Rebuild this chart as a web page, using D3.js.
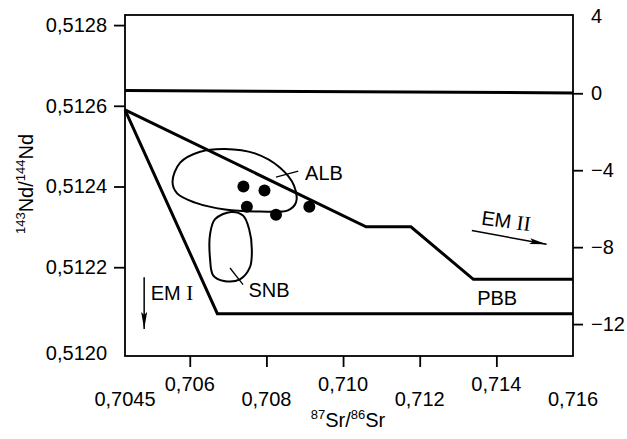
<!DOCTYPE html>
<html><head><meta charset="utf-8">
<script src="https://cdn.jsdelivr.net/npm/d3@7"></script>
<style>
body{margin:0;background:#fff}
svg{display:block}
text{font-family:"Liberation Sans",Arial,sans-serif;fill:#000}
</style>
</head><body>
<svg id="c" width="627" height="439"></svg>
<script>
// ---------- data ----------
const srDomain = [0.70431, 0.716];
const ndDomain = [0.51198, 0.512825];
const epsDomain = [-13.66, 4.07];

const xTickValues = [0.706, 0.708, 0.710, 0.712, 0.714];
const xLabelValues = [0.70431, 0.706, 0.708, 0.710, 0.712, 0.714, 0.716];
const xLabelTexts = ["0,7045", "0,706", "0,708", "0,710", "0,712", "0,714", "0,716"];
const xLabelRow = [1, 0, 1, 0, 1, 0, 1];

const yTickValues = [0.5122, 0.5124, 0.5126, 0.5128];
const yTickTexts = ["0,5122", "0,5124", "0,5126", "0,5128"];
const yBottomLabel = "0,5120";
const yBottomValue = 0.5120;

const epsTickValues = [0, -4, -8, -12];
const epsTickTexts = ["0", "\u22124", "\u22128", "\u221212"];
const epsTopLabel = "4";
const epsTopValue = 4;

// CHUR line (eps = 0)
const churLine = [[0.70431, 0.512638], [0.716, 0.512632]];
// upper boundary (ALB trend to EM II)
const upperLine = [[0.70431, 0.51259], [0.7106, 0.51230], [0.71177, 0.51230], [0.7134, 0.51217], [0.716, 0.51217]];
// lower boundary (to EM I, PBB)
const lowerLine = [[0.70431, 0.51259], [0.70672, 0.512085], [0.716, 0.512085]];

// samples
const sampleSr = [0.7074, 0.70795, 0.70749, 0.70825, 0.70912];
const sampleNd = [0.51240, 0.51239, 0.51235, 0.51233, 0.51235];

// fields
const albOutline = [[0.70555, 0.512412], [0.70575, 0.512459], [0.70627, 0.512486], [0.70692, 0.512493],
  [0.7077, 0.512482], [0.70835, 0.512447], [0.70872, 0.512402], [0.70877, 0.51236], [0.70856, 0.512341],
  [0.70783, 0.512338], [0.70692, 0.512343], [0.70614, 0.51236], [0.70567, 0.512383]];
const snbOutline = [[0.70708, 0.512337], [0.70739, 0.512328], [0.70755, 0.512294], [0.70762, 0.512244],
  [0.70757, 0.5122], [0.70731, 0.51217], [0.70689, 0.512166], [0.70661, 0.51218], [0.70653, 0.51222],
  [0.70653, 0.512282], [0.70666, 0.512319]];

const albLeader = [[0.70825, 0.512423], [0.70883, 0.512438]];
const snbLeader = [[0.70705, 0.512198], [0.70739, 0.512157]];

const labels = [
  {name: "ALB", sr: 0.70901, nd: 0.512417},
  {name: "SNB", sr: 0.70753, nd: 0.512125},
  {name: "PBB", sr: 0.7135, nd: 0.512106}
];
const em1Arrow = [[0.70481, 0.512175], [0.70481, 0.512047]];
const em1Text = {sr: 0.70498, nd: 0.512119};
const em2Arrow = [[0.71336, 0.512291], [0.71531, 0.512257]];
const em2Text = {sr: 0.71359, nd: 0.512306, angle: 8};

// ---------- drawing ----------
const svg = d3.select("#c");
const L = 125, R = 573, T = 15, B = 356;
const x = d3.scaleLinear().domain(srDomain).range([L, R]);
const y = d3.scaleLinear().domain(ndDomain).range([B, T]);
const e = d3.scaleLinear().domain(epsDomain).range([B, T]);

const defs = svg.append("defs");
defs.append("marker").attr("id", "ah").attr("markerUnits", "userSpaceOnUse")
  .attr("markerWidth", 18).attr("markerHeight", 8).attr("refX", 17).attr("refY", 3)
  .attr("orient", "auto")
  .append("path").attr("d", "M0,0 L17,3 L0,6 L3,3 Z").attr("fill", "#000");

const line = d3.line().x(d => x(d[0])).y(d => y(d[1]));

// frame
svg.append("rect").attr("x", L).attr("y", T).attr("width", R - L).attr("height", B - T)
  .attr("fill", "none").attr("stroke", "#000").attr("stroke-width", 1.8);

// left axis
const gl = svg.append("g").attr("transform", `translate(${L},0)`)
  .call(d3.axisLeft(y).tickValues(yTickValues).tickSize(11).tickPadding(7)
    .tickFormat((d, i) => yTickTexts[i]));
gl.select(".domain").remove();
gl.selectAll("line").attr("stroke-width", 1.8);
gl.selectAll("text").attr("font-size", 20).attr("font-family", null);
svg.append("text").attr("x", L - 18).attr("y", y(yBottomValue) + 6).attr("dy", "0.32em")
  .attr("text-anchor", "end").attr("font-size", 20).text(yBottomLabel);

// right axis
const gr = svg.append("g").attr("transform", `translate(${R},0)`)
  .call(d3.axisRight(e).tickValues(epsTickValues).tickSize(10).tickPadding(8)
    .tickFormat((d, i) => epsTickTexts[i]));
gr.select(".domain").remove();
gr.selectAll("line").attr("stroke-width", 1.8);
gr.selectAll("text").attr("font-size", 20).attr("font-family", null);
svg.append("text").attr("x", R + 18).attr("y", e(epsTopValue)).attr("dy", "0.32em")
  .attr("font-size", 20).text(epsTopLabel);

// bottom axis
const gb = svg.append("g").attr("transform", `translate(0,${B})`)
  .call(d3.axisBottom(x).tickValues(xTickValues).tickSize(11).tickFormat(""));
gb.select(".domain").remove();
gb.selectAll("line").attr("stroke-width", 1.8);
svg.selectAll("text.xl").data(xLabelValues).enter().append("text").attr("class", "xl")
  .attr("x", d => x(d)).attr("y", (d, i) => xLabelRow[i] ? 406 : 391)
  .attr("text-anchor", "middle").attr("font-size", 20).text((d, i) => xLabelTexts[i]);

// axis titles
const xt = svg.append("text").attr("x", 348).attr("y", 427).attr("text-anchor", "middle").attr("font-size", 20);
xt.append("tspan").attr("font-size", 13).attr("dy", -8).text("87");
xt.append("tspan").attr("dy", 8).text("Sr/");
xt.append("tspan").attr("font-size", 13).attr("dy", -8).text("86");
xt.append("tspan").attr("dy", 8).text("Sr");

const yt = svg.append("text").attr("transform", "translate(32.5,184) rotate(-90)")
  .attr("text-anchor", "middle").attr("font-size", 20);
yt.append("tspan").attr("font-size", 13).attr("dy", -8).text("143");
yt.append("tspan").attr("dy", 8).text("Nd/");
yt.append("tspan").attr("font-size", 13).attr("dy", -8).text("144");
yt.append("tspan").attr("dy", 8).text("Nd");

// lines
[churLine, upperLine, lowerLine].forEach(l => {
  svg.append("path").attr("d", line(l)).attr("fill", "none").attr("stroke", "#000")
    .attr("stroke-width", 3).attr("stroke-linejoin", "miter");
});

// fields
const closed = d3.line().x(d => x(d[0])).y(d => y(d[1])).curve(d3.curveCatmullRomClosed.alpha(0.5));
[albOutline, snbOutline].forEach(o => {
  svg.append("path").attr("d", closed(o)).attr("fill", "none").attr("stroke", "#000").attr("stroke-width", 2);
});
[albLeader, snbLeader].forEach(l => {
  svg.append("path").attr("d", line(l)).attr("fill", "none").attr("stroke", "#000").attr("stroke-width", 1.3);
});

// samples
svg.selectAll("circle.s").data(sampleSr).enter().append("circle").attr("class", "s")
  .attr("cx", d => x(d)).attr("cy", (d, i) => y(sampleNd[i])).attr("r", 6).attr("fill", "#000");

// labels
labels.forEach(l => {
  svg.append("text").attr("x", x(l.sr)).attr("y", y(l.nd)).attr("font-size", 20).text(l.name);
});

// EM I
svg.append("path").attr("d", line(em1Arrow)).attr("stroke", "#000").attr("stroke-width", 1.5)
  .attr("marker-end", "url(#ah)");
const t1 = svg.append("text").attr("x", x(em1Text.sr)).attr("y", y(em1Text.nd)).attr("font-size", 20);
t1.append("tspan").text("EM ");
t1.append("tspan").attr("font-family", "Liberation Serif, Times New Roman, serif").attr("font-size", 21).text("I");

// EM II
svg.append("path").attr("d", line(em2Arrow)).attr("stroke", "#000").attr("stroke-width", 1.5)
  .attr("marker-end", "url(#ah)");
const t2 = svg.append("text")
  .attr("transform", `translate(${x(em2Text.sr)},${y(em2Text.nd)}) rotate(${em2Text.angle})`)
  .attr("font-size", 20);
t2.append("tspan").text("EM ");
t2.append("tspan").attr("font-family", "Liberation Serif, Times New Roman, serif").attr("font-size", 21).text("II");
</script>
</body></html>
